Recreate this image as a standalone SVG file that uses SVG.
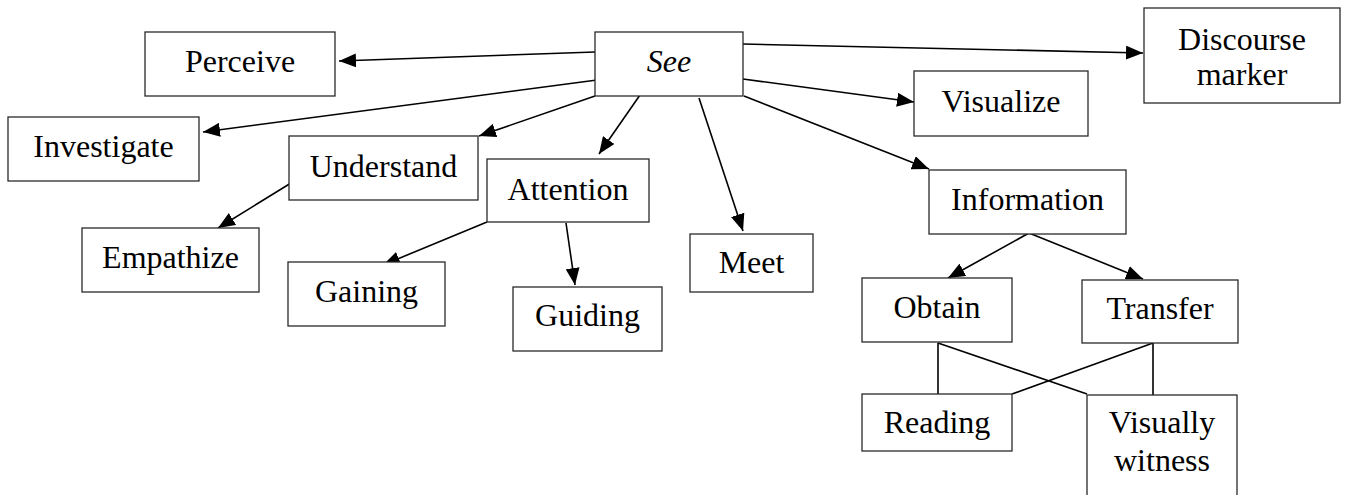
<svg xmlns="http://www.w3.org/2000/svg" width="1345" height="495" viewBox="0 0 1345 495">
<style>
.box{fill:#fff;stroke:#2a2a2a;stroke-width:1.3}
.t{font-family:'Liberation Serif','Times New Roman',Times,'DejaVu Serif',serif;font-size:32px;fill:#000;text-anchor:middle}
.e{stroke:#000;stroke-width:1.6;fill:none}
.a{marker-end:url(#ah)}
</style>
<defs>
<marker id="ah" viewBox="0 0 17 14" refX="17" refY="7" markerWidth="17" markerHeight="14" markerUnits="userSpaceOnUse" orient="auto">
<path d="M0,0 L17,7 L0,14 z" fill="#000"/>
</marker>
</defs>
<rect width="1345" height="495" fill="#fff"/>
<g id="connectors">
<line class="e a" x1="595" y1="52" x2="339" y2="61"/>
<line class="e a" x1="597" y1="80" x2="203" y2="132"/>
<line class="e a" x1="595" y1="96" x2="479" y2="136"/>
<line class="e a" x1="640" y1="95" x2="599" y2="154"/>
<line class="e a" x1="699" y1="98" x2="743" y2="231"/>
<line class="e a" x1="743" y1="44" x2="1143" y2="53"/>
<line class="e a" x1="743" y1="79" x2="914" y2="102"/>
<line class="e a" x1="744" y1="96" x2="929" y2="169"/>
<line class="e a" x1="291" y1="183" x2="218" y2="228"/>
<line class="e a" x1="487" y1="222" x2="383" y2="265"/>
<line class="e a" x1="566" y1="223" x2="575" y2="285"/>
<line class="e a" x1="1029" y1="233" x2="948" y2="278"/>
<line class="e a" x1="1029" y1="233" x2="1143" y2="279"/>
<line class="e" x1="938" y1="343" x2="938" y2="394"/>
<line class="e" x1="938" y1="343" x2="1087" y2="394"/>
<line class="e" x1="1153" y1="343" x2="1153" y2="395"/>
<line class="e" x1="1153" y1="343" x2="1012" y2="394"/>
</g>
<g id="see"><rect class="box" x="595" y="32" width="148" height="64"/><text class="t" x="669" y="72" font-style="italic">See</text></g>
<g id="perceive"><rect class="box" x="145" y="32" width="190" height="64"/><text class="t" x="240" y="72">Perceive</text></g>
<g id="investigate"><rect class="box" x="8" y="117" width="191" height="64"/><text class="t" x="103.5" y="157">Investigate</text></g>
<g id="understand"><rect class="box" x="289" y="136" width="189" height="64"/><text class="t" x="383.5" y="177">Understand</text></g>
<g id="attention"><rect class="box" x="487" y="159" width="162" height="63"/><text class="t" x="568" y="200">Attention</text></g>
<g id="empathize"><rect class="box" x="82" y="228" width="177" height="64"/><text class="t" x="170.5" y="268">Empathize</text></g>
<g id="gaining"><rect class="box" x="288" y="262" width="157" height="64"/><text class="t" x="366.5" y="302">Gaining</text></g>
<g id="guiding"><rect class="box" x="513" y="287" width="149" height="64"/><text class="t" x="587.5" y="326">Guiding</text></g>
<g id="meet"><rect class="box" x="690" y="234" width="123" height="58"/><text class="t" x="751.5" y="273">Meet</text></g>
<g id="discourse-marker"><rect class="box" x="1144" y="8" width="196" height="95"/><text class="t" x="1242" y="50">Discourse</text><text class="t" x="1242" y="85">marker</text></g>
<g id="visualize"><rect class="box" x="914" y="71" width="174" height="65"/><text class="t" x="1001" y="112">Visualize</text></g>
<g id="information"><rect class="box" x="929" y="170" width="197" height="64"/><text class="t" x="1027.5" y="210">Information</text></g>
<g id="obtain"><rect class="box" x="862" y="278" width="150" height="64"/><text class="t" x="937" y="318">Obtain</text></g>
<g id="transfer"><rect class="box" x="1082" y="280" width="156" height="63"/><text class="t" x="1160" y="319">Transfer</text></g>
<g id="reading"><rect class="box" x="862" y="394" width="150" height="57"/><text class="t" x="937" y="433">Reading</text></g>
<g id="visually-witness"><rect class="box" x="1087" y="395" width="150" height="110"/><text class="t" x="1162" y="433">Visually</text><text class="t" x="1162" y="471">witness</text></g>
</svg>
